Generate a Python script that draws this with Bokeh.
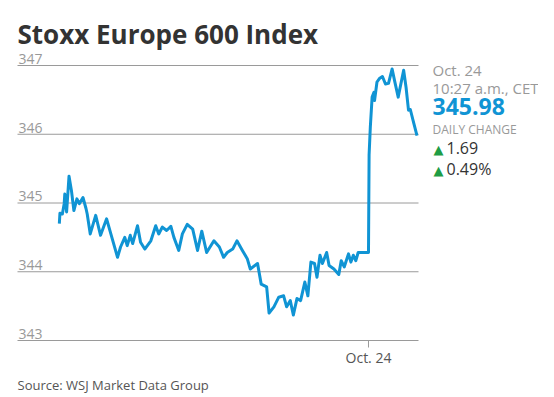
from bokeh.plotting import figure
from bokeh.models import Label, Range1d
from bokeh.embed import file_html
from bokeh.resources import INLINE
from bokeh.core.properties import value

# ---- data (minutes relative to the Oct. 24 open) ----
times = [-510, -509, -505, -502, -501, -498, -494, -490, -486, -481, -477, -471,
         -466, -464, -459, -450, -442, -432, -425, -414, -409, -402, -398, -393,
         -389, -381, -376, -369, -359, -351, -346, -340, -333, -326, -321, -313,
         -307, -299, -290, -282, -275, -267, -255, -246, -239, -233, -224, -217,
         -208, -200, -195, -183, -177, -168, -164, -156, -148, -140, -135, -129,
         -124, -118, -112, -105, -100, -95, -89, -85, -80, -76, -69, -65, -57,
         -49, -45, -40, -33, -29, -25, -21, -17, -10, -2,
         0, 1, 3, 6, 9, 10, 14, 18, 23, 28, 33, 39, 43, 49, 58, 62, 66, 69, 75, 80]
prices = [344.70, 344.85, 344.84, 344.99, 345.13, 344.87, 345.39, 345.18, 344.89,
          345.06, 344.99, 345.08, 344.92, 344.84, 344.55, 344.82, 344.53, 344.77,
          344.55, 344.21, 344.36, 344.50, 344.38, 344.53, 344.41, 344.67, 344.43,
          344.33, 344.45, 344.67, 344.55, 344.65, 344.60, 344.66, 344.50, 344.31,
          344.55, 344.69, 344.62, 344.31, 344.59, 344.28, 344.45, 344.36, 344.21,
          344.28, 344.33, 344.45, 344.31, 344.19, 344.04, 344.12, 343.82, 343.78,
          343.40, 343.49, 343.63, 343.65, 343.49, 343.58, 343.37, 343.61, 343.58,
          343.85, 343.65, 344.14, 344.12, 343.92, 344.24, 344.12, 344.28, 344.09,
          344.04, 343.96, 344.16, 344.07, 344.26, 344.14, 344.24, 344.16, 344.28,
          344.28, 344.28,
          344.28, 345.70, 346.10, 346.54, 346.61, 346.49, 346.76, 346.81, 346.84,
          346.73, 346.74, 346.95, 346.78, 346.54, 346.93, 346.68, 346.35, 346.36,
          346.15, 345.98]

y_ticks = [343, 344, 345, 346, 347]
y_tick_labels = ["343", "344", "345", "346", "347"]
x_ticks = [0]
x_tick_labels = ["Oct. 24"]

title_text = "Stoxx Europe 600 Index"
source_text = "Source: WSJ Market Data Group"
last_date = "Oct. 24"
last_time = "10:27 a.m., CET"
last_value = "345.98"
change_title = "DAILY CHANGE"
change_points = "1.69"
change_pct = "0.49%"

BLUE = "#1094d4"
GRID = "#9a9a9a"
GREEN = "#1f9d45"
FONT = "Open Sans"

W, H = 538, 396
# plot area (page pixels) and its data extent
PX0, PX1, PY_BOT = 17, 418, 340
X0, X1 = -579, 82.5
Y0 = 343
PX_PER_UNIT = 68.75
xk = (X1 - X0) / (PX1 - PX0)          # data per pixel (x)
yk = 1.0 / PX_PER_UNIT                  # data per pixel (y)
BASE_FIX = 0.4                          # measured baseline shift (em)

p = figure(width=W, height=H, output_backend="svg", toolbar_location=None,
           x_range=Range1d(X0 - PX0 * xk, X1 + (W - PX1) * xk),
           y_range=Range1d(Y0 - (H - PY_BOT) * yk, Y0 + PY_BOT * yk),
           min_border=0)
p.outline_line_color = None
p.background_fill_color = "white"
p.border_fill_color = "white"
p.grid.visible = False
p.axis.visible = False

# gridlines
p.segment(x0=[X0] * len(y_ticks), x1=[X1] * len(y_ticks), y0=y_ticks, y1=y_ticks,
          line_color=GRID, line_width=1)
# y tick labels above gridlines
p.text(x=[X0] * len(y_ticks), y=y_ticks, text=y_tick_labels,
       text_font=value(FONT), text_font_size="14px", text_color="#999999",
       text_baseline="alphabetic", text_align="left", x_offset=1,
       y_offset=-1 - BASE_FIX * 14)
# x tick + label
p.segment(x0=x_ticks, x1=x_ticks, y0=[Y0] * len(x_ticks),
          y1=[Y0 - 7 * yk] * len(x_ticks), line_color=GRID, line_width=1)
p.text(x=x_ticks, y=[Y0] * len(x_ticks), text=x_tick_labels,
       text_font=value(FONT), text_font_size="14px", text_color="#555555",
       text_baseline="alphabetic", text_align="center",
       y_offset=23 - BASE_FIX * 14)

p.line(times, prices, line_width=3, line_color=BLUE, line_join="round")


def lab(text, px, baseline_py, size, color, bold=False, font=FONT):
    p.add_layout(Label(text=text, x=px, y=H - (baseline_py - BASE_FIX * size),
                       x_units="screen", y_units="screen", text_font=font,
                       text_font_size=f"{size}px", text_color=color,
                       text_baseline="alphabetic", text_align="left",
                       text_font_style="bold" if bold else "normal"))


lab(title_text, 17, 44, 26, "#333333", bold=True)
lab(last_date, 432, 75, 15, "#999999")
lab(last_time, 432, 93, 15, "#999999")
lab(last_value, 432, 115, 23, BLUE, bold=True)
lab(change_title, 432, 134, 12, "#999999")
lab("\u25B2", 433, 154, 13, GREEN, font="DejaVu Sans")
lab(change_points, 446, 154, 16, "#333333")
lab("\u25B2", 433, 175, 13, GREEN, font="DejaVu Sans")
lab(change_pct, 446, 175, 16, "#333333")
lab(source_text, 17, 390, 13, "#555555")

open("out.html", "w").write(file_html(p, INLINE))
